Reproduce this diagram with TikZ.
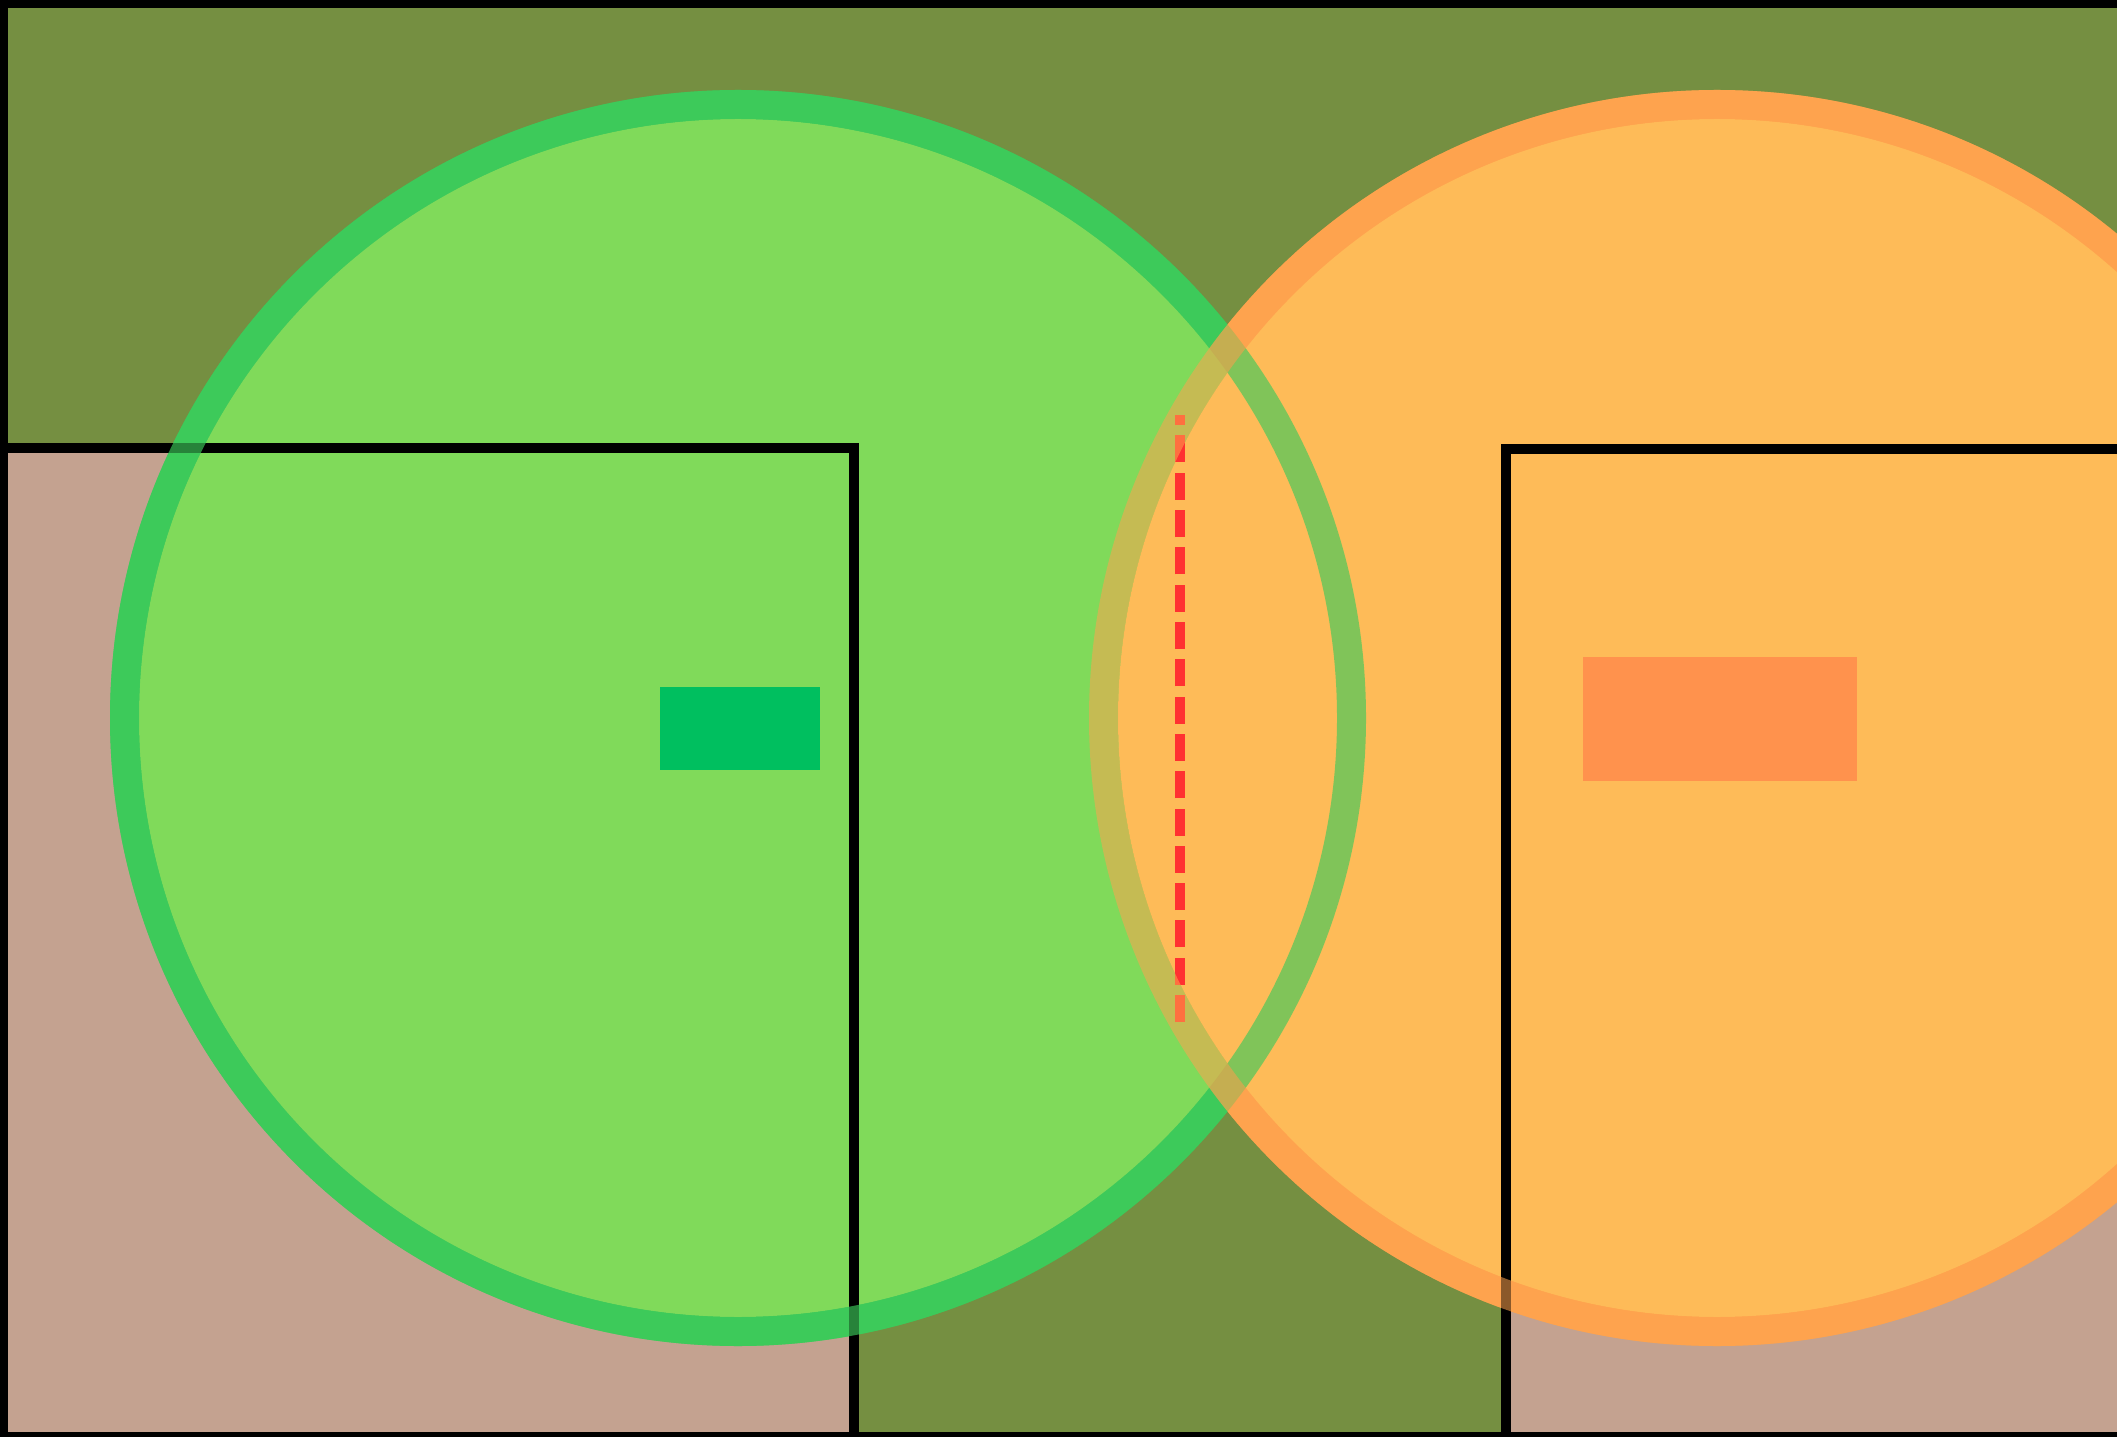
\documentclass[tikz,border=0pt]{standalone}
\usepackage{tikz}
\definecolor{fieldolive}{RGB}{117,143,65}
\definecolor{plottan}{RGB}{196,162,144}
\definecolor{ringgreen}{RGB}{61,202,90}
\definecolor{discgreen}{RGB}{128,218,90}
\definecolor{markgreen}{RGB}{0,191,95}
\definecolor{ringorange}{RGB}{254,163,78}
\definecolor{discorange}{RGB}{254,187,88}
\definecolor{markorange}{RGB}{255,146,77}
\definecolor{cutred}{RGB}{255,49,49}

\begin{document}
\begin{tikzpicture}[wall/.style={line width=1mm, line join=miter}, halo/.style={line width=2.9mm, opacity=#1}]
	\useasboundingbox (0,0) rectangle (21.17,14.37);
	\fill[black] (0,0) rectangle (21.17,14.37);
	\fill[fieldolive] (0.08,0.05) rectangle (21.3,14.29);
	\fill[plottan] (0.08,0.05) rectangle (8.54,9.89);
	\fill[plottan] (15.06,0.05) rectangle (21.3,9.88);
	\coordinate (gc) at (7.38,7.19);
	\coordinate (oc) at (17.17,7.19);
	\fill[ringgreen] (gc) circle (6.28);
	\fill[ringorange] (oc) circle (6.28);
	\fill[discgreen] (gc) circle (5.99);
	\fill[discorange] (oc) circle (5.99);
	\draw[wall] (0,9.89) -- (8.54,9.89) -- (8.54,0);
	\draw[wall] (21.3,9.88) -- (15.06,9.88) -- (15.06,0);
	\fill[markgreen] (6.60,6.67) rectangle (8.20,7.50);
	\fill[markorange] (15.83,6.56) rectangle (18.57,7.80);
	\coordinate (cutlow) at (11.80,4.15);
	\coordinate (cuthigh) at (11.80,10.22);
	\draw[cutred, line width=1mm, dash pattern=on 2.7mm off 1.03mm] (cutlow) -- (cuthigh);
	\draw[ringgreen, halo=0.65] (gc) circle (6.135);
	\draw[ringorange, halo=0.55] (oc) circle (6.135);
\end{tikzpicture}
\end{document}
